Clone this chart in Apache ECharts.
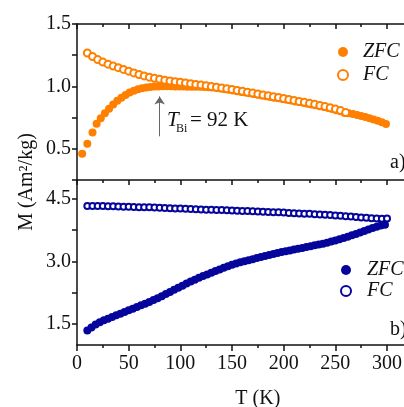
<!DOCTYPE html>
<html>
<head>
<meta charset="utf-8">
<script src="https://cdn.jsdelivr.net/npm/echarts@6/dist/echarts.min.js"></script>
<style>html,body{margin:0;padding:0;background:#fff}#c{width:404px;height:407px}</style>
</head>
<body>
<div id="c"></div>
<script>
// ---- Panel a) (orange) ----
const topZfcT = [5,10,15,19,23,27,31,35,39,43,47,51,55,59,63,67,71,75,79,83,87,91,95,99,103,107,111,115,119,123,127,131,135,139,143,147,151,155,159,163,167,171,175,179,183,187,191,195,199,203,207,211,215,219,223,227,231,235,239,243,247,251,255,259,263,267,271,275,279,283,287,291,295,299];
const topZfcM = [0.46,0.54,0.63,0.70,0.745,0.785,0.82,0.855,0.885,0.91,0.932,0.952,0.966,0.978,0.986,0.992,0.996,0.999,1.000,1.001,1.001,1.001,1.000,1.000,0.999,0.998,0.998,0.997,0.997,0.995,0.993,0.991,0.988,0.983,0.978,0.973,0.968,0.962,0.956,0.951,0.945,0.940,0.934,0.928,0.922,0.916,0.910,0.905,0.899,0.893,0.887,0.880,0.874,0.868,0.861,0.855,0.848,0.841,0.834,0.827,0.818,0.809,0.800,0.787,0.784,0.778,0.771,0.763,0.754,0.745,0.735,0.724,0.712,0.698];
const topFcT = [10,15,20,25,30,35,40,45,50,55,60,65,70,75,80,85,90,95,100,105,110,115,120,125,130,135,140,145,150,155,160,165,170,175,180,185,190,195,200,205,210,215,220,225,230,235,240,245,250,255,260];
const topFcM = [1.268,1.240,1.215,1.195,1.178,1.163,1.150,1.136,1.122,1.108,1.095,1.084,1.074,1.065,1.057,1.050,1.043,1.038,1.033,1.028,1.022,1.016,1.011,1.005,1.000,0.994,0.988,0.982,0.975,0.968,0.961,0.954,0.947,0.940,0.932,0.925,0.918,0.911,0.903,0.896,0.888,0.880,0.872,0.864,0.856,0.847,0.838,0.829,0.818,0.806,0.790];

// ---- Panel b) (blue) ----
const botZfcT = [10,14,18,22,26,30,34,38,42,46,50,54,58,62,66,70,74,78,82,86,90,94,98,102,106,110,114,118,122,126,130,134,138,142,146,150,154,158,162,166,170,174,178,182,186,190,194,198,202,206,210,214,218,222,226,230,234,238,242,246,250,254,258,262,266,270,274,278,282,286,290,294,298];
const botZfcM = [1.35,1.42,1.49,1.545,1.59,1.63,1.67,1.71,1.75,1.79,1.83,1.87,1.91,1.95,1.99,2.03,2.075,2.12,2.17,2.22,2.27,2.32,2.37,2.42,2.47,2.52,2.565,2.61,2.65,2.69,2.73,2.77,2.81,2.85,2.885,2.92,2.95,2.98,3.005,3.03,3.055,3.08,3.105,3.13,3.155,3.18,3.20,3.225,3.245,3.265,3.285,3.305,3.325,3.345,3.365,3.385,3.405,3.425,3.45,3.475,3.50,3.53,3.56,3.59,3.625,3.66,3.695,3.73,3.765,3.80,3.83,3.86,3.88];
const botFcT = [10,15,20,25,30,35,40,45,50,55,60,65,70,75,80,85,90,95,100,105,110,115,120,125,130,135,140,145,150,155,160,165,170,175,180,185,190,195,200,205,210,215,220,225,230,235,240,245,250,255,260,265,270,275,280,285,290,295,300];
const botFcM = [4.33,4.33,4.325,4.325,4.32,4.32,4.315,4.31,4.31,4.305,4.30,4.30,4.295,4.29,4.285,4.28,4.275,4.27,4.265,4.26,4.255,4.25,4.245,4.24,4.235,4.23,4.23,4.225,4.22,4.215,4.21,4.205,4.20,4.195,4.19,4.185,4.18,4.175,4.17,4.16,4.155,4.15,4.145,4.14,4.13,4.125,4.12,4.11,4.10,4.095,4.085,4.075,4.065,4.055,4.045,4.035,4.03,4.025,4.03];

const xTickLabels = [0,50,100,150,200,250,300];
const yTopLabels = [0.5,1.0,1.5];
const yBotLabels = [1.5,3.0,4.5];
const yBotTicks = [1.5,2.25,3.0,3.75,4.5];
const arrowT = 80, arrowFrom = 0.60, arrowTo = 0.92;

const ORANGE = '#ff8000', BLUE = '#05059c', INK = '#111';
const FONT = '"Liberation Serif", "Times New Roman", serif';
const zip = (a, b) => a.map((v, i) => [v, b[i]]);

const lineS = {color: INK, width: 1.5};
function xAx(grid, pos, inside, labels, extra) {
  return Object.assign({
    gridIndex: grid, type: 'value', position: pos, min: 0, max: 350, interval: 50,
    axisLine: {show: true, onZero: false, lineStyle: lineS},
    axisTick: {show: true, inside: inside, length: inside ? 5 : 6, lineStyle: lineS},
    minorTick: {show: true, splitNumber: 2, length: 3, lineStyle: lineS},
    splitLine: {show: false},
    axisLabel: {show: labels, margin: 9, color: INK, fontFamily: FONT, fontSize: 20,
      formatter: v => xTickLabels.indexOf(v) >= 0 ? String(v) : ''}
  }, extra || {});
}

const chart = echarts.init(document.getElementById('c'), null, {renderer: 'canvas'});
chart.setOption({
  animation: false,
  backgroundColor: '#fff',
  grid: [
    {left: 77, top: 24, width: 361.7, height: 156, outerBoundsMode: 'none', containLabel: false},
    {left: 77, top: 180, width: 361.7, height: 165, outerBoundsMode: 'none', containLabel: false}
  ],
  xAxis: [
    xAx(0, 'top', true, false),
    xAx(1, 'top', true, false),
    xAx(1, 'bottom', false, true, {
      name: 'T (K)', nameLocation: 'middle', nameGap: 44,
      nameTextStyle: {color: INK, fontFamily: FONT, fontSize: 20, align: 'center'}
    })
  ],
  yAxis: [
    {gridIndex: 0, type: 'value', min: 0.25, max: 1.5, interval: 0.25,
      axisLine: {show: true, lineStyle: lineS},
      axisTick: {show: true, inside: false, length: 5, lineStyle: lineS},
      splitLine: {show: false},
      axisLabel: {margin: 6, color: INK, fontFamily: FONT, fontSize: 20,
        formatter: v => yTopLabels.some(t => Math.abs(t - v) < 1e-6) ? v.toFixed(1) : ''}},
    {gridIndex: 1, type: 'value', min: 1.0, max: 4.95,
      axisLine: {show: true, lineStyle: lineS},
      axisTick: {show: true, inside: false, length: 5, lineStyle: lineS, customValues: yBotTicks},
      splitLine: {show: false},
      axisLabel: {margin: 6, color: INK, fontFamily: FONT, fontSize: 20, customValues: yBotLabels,
        formatter: v => v.toFixed(1)}}
  ],
  legend: [
    {orient: 'vertical', left: 332, top: 37, itemWidth: 10, itemHeight: 10, itemGap: 3,
      selectedMode: false, data: ['ZFC a', 'FC a'],
      formatter: n => n.split(' ')[0],
      textStyle: {color: INK, fontFamily: FONT, fontStyle: 'italic', fontSize: 20, padding: [0, 0, 0, 10]}},
    {orient: 'vertical', left: 335, top: 255, itemWidth: 10, itemHeight: 10, itemGap: 1,
      selectedMode: false, data: ['ZFC b', 'FC b'],
      formatter: n => n.split(' ')[0],
      textStyle: {color: INK, fontFamily: FONT, fontStyle: 'italic', fontSize: 20, padding: [0, 0, 0, 11]}}
  ],
  series: [
    {name: 'ZFC a', type: 'scatter', xAxisIndex: 0, yAxisIndex: 0, symbol: 'circle', symbolSize: 8,
      itemStyle: {color: ORANGE, opacity: 1}, data: zip(topZfcT, topZfcM)},
    {name: 'FC a', type: 'scatter', xAxisIndex: 0, yAxisIndex: 0, symbol: 'emptyCircle', symbolSize: 7,
      itemStyle: {color: ORANGE, borderColor: ORANGE, borderWidth: 1.5, opacity: 1}, data: zip(topFcT, topFcM),
      markLine: {silent: true, symbol: ['none', 'arrow'], symbolSize: 8, label: {show: false},
        lineStyle: {color: '#666', width: 1, type: 'solid'},
        data: [[{coord: [arrowT, arrowFrom]}, {coord: [arrowT, arrowTo]}]]}},
    {name: 'ZFC b', type: 'scatter', xAxisIndex: 2, yAxisIndex: 1, symbol: 'circle', symbolSize: 8,
      itemStyle: {color: BLUE, opacity: 1}, data: zip(botZfcT, botZfcM)},
    {name: 'FC b', type: 'scatter', xAxisIndex: 2, yAxisIndex: 1, symbol: 'emptyCircle', symbolSize: 6,
      itemStyle: {color: BLUE, borderColor: BLUE, borderWidth: 1.5, opacity: 1}, data: zip(botFcT, botFcM)}
  ],
  graphic: [
    {type: 'text', x: 27, y: 182, rotation: Math.PI / 2,
      style: {text: 'M (Am²/kg)', font: '20px "Liberation Serif"', fill: INK, textAlign: 'center', textVerticalAlign: 'middle'}},
    {type: 'text', x: 167, y: 120, style: {text: 'T', font: 'italic 21px "Liberation Serif"', fill: INK, textVerticalAlign: 'middle'}},
    {type: 'text', x: 176, y: 129, style: {text: 'Bi', font: '12px "Liberation Serif"', fill: INK, textVerticalAlign: 'middle'}},
    {type: 'text', x: 190, y: 120, style: {text: '= 92 K', font: '21px "Liberation Serif"', fill: INK, textVerticalAlign: 'middle'}},
    {type: 'text', x: 390, y: 163, style: {text: 'a)', font: '20px "Liberation Serif"', fill: INK, textVerticalAlign: 'middle'}},
    {type: 'text', x: 390, y: 330, style: {text: 'b)', font: '20px "Liberation Serif"', fill: INK, textVerticalAlign: 'middle'}}
  ]
});
</script>
</body>
</html>
